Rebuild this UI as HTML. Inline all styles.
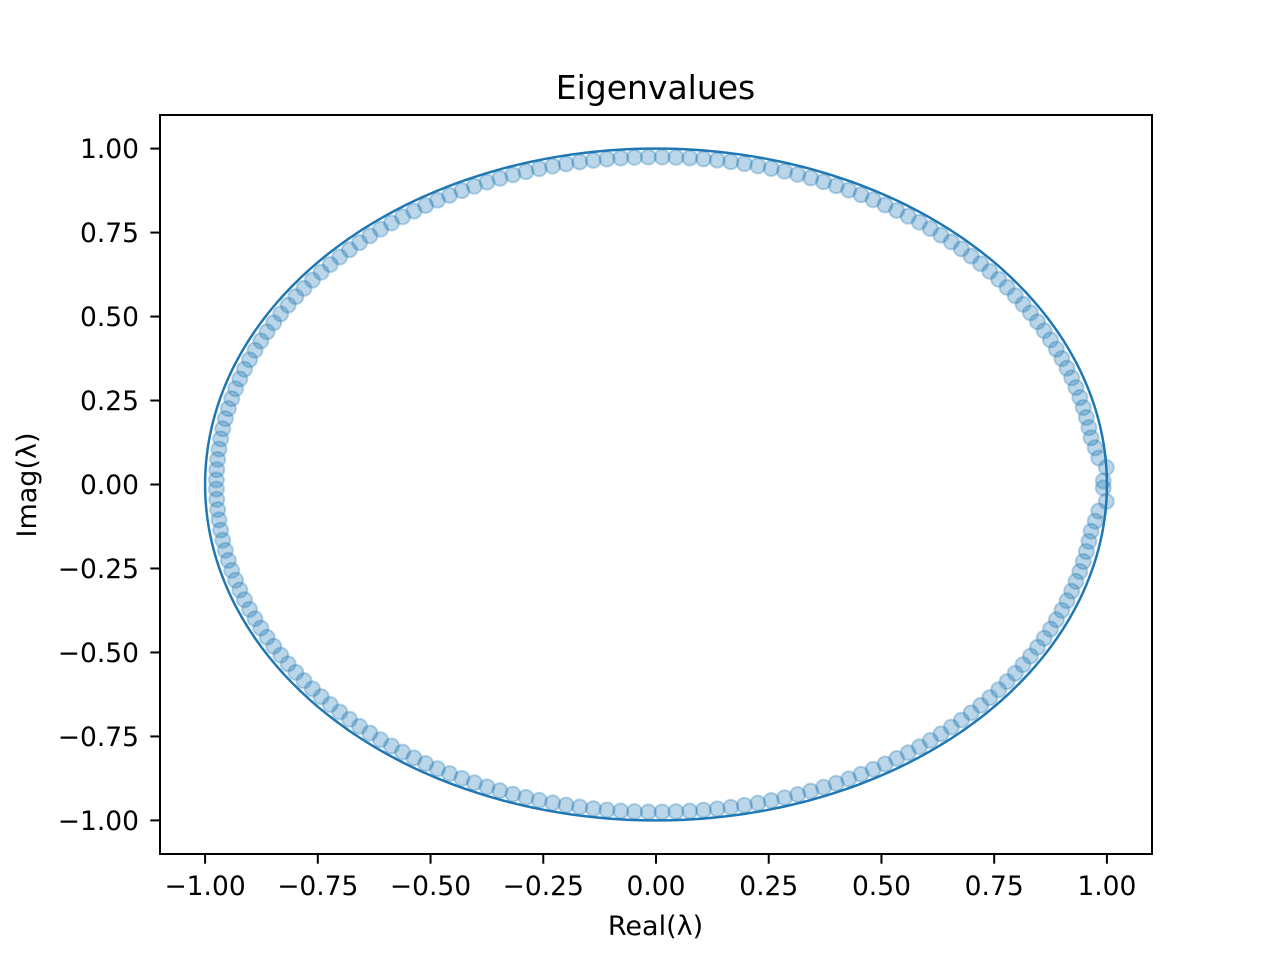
<!DOCTYPE html>
<html><head><meta charset="utf-8"><style>
body{margin:0;background:#fff}
svg text{font-family:"DejaVu Sans","Liberation Sans",sans-serif;fill:#000}
</style></head><body>
<svg id="chart" width="1280" height="960" xmlns="http://www.w3.org/2000/svg">
<rect width="1280" height="960" fill="#fff"/>
<text x="655.5" y="99" font-size="33" text-anchor="middle">Eigenvalues</text>
<g id="plot"></g>
<g id="axes"></g>
<text x="655.5" y="935" font-size="27" text-anchor="middle">Real(λ)</text>
<text transform="translate(36,485) rotate(-90)" font-size="27" text-anchor="middle">Imag(λ)</text>
</svg>
<script>
// eigenvalues in upper half-plane (polar form, degrees); conjugates are plotted too
const eigAngles = [0.6,2.9,4.6,6.4,8.2,10,11.8,13.6,15.4,17.2,19,20.8,22.6,24.4,26.2,28,29.8,31.6,33.4,35.2,37,38.8,40.6,42.4,44.2,46,47.8,49.6,51.4,53.2,55,56.8,58.6,60.4,62.2,64,65.8,67.6,69.4,71.2,73,74.8,76.6,78.4,80.2,82,83.8,85.6,87.4,89.2,91,92.8,94.6,96.4,98.2,100,101.8,103.6,105.4,107.2,109,110.8,112.6,114.4,116.2,118,119.8,121.6,123.4,125.2,127,128.8,130.6,132.4,134.2,136,137.8,139.6,141.4,143.2,145,146.8,148.6,150.4,152.2,154,155.8,157.6,159.4,161.2,163,164.8,166.6,168.4,170.2,172,173.8,175.6,177.4,179.2];
const eigRadiiSpecial = [0.992,1.0,0.985,0.98];
const defaultRadius = 0.975;
const xTicks = [-1,-0.75,-0.5,-0.25,0,0.25,0.5,0.75,1];
const yTicks = [-1,-0.75,-0.5,-0.25,0,0.25,0.5,0.75,1];
const xTickLabels = ["−1.00","−0.75","−0.50","−0.25","0.00","0.25","0.50","0.75","1.00"];
const yTickLabels = ["−1.00","−0.75","−0.50","−0.25","0.00","0.25","0.50","0.75","1.00"];

const L=160,R=1152,T=115,B=854;
const xMin=-1.1,xMax=1.1,yMin=-1.1,yMax=1.1;
const sx=v=>L+(v-xMin)/(xMax-xMin)*(R-L);
const sy=v=>B-(v-yMin)/(yMax-yMin)*(B-T);
const NS="http://www.w3.org/2000/svg";
const plot=document.getElementById('plot'), axes=document.getElementById('axes');
function mk(tag,attrs,parent){const e=document.createElementNS(NS,tag);for(const k in attrs)e.setAttribute(k,attrs[k]);parent.appendChild(e);return e;}

// unit circle
let d='';
for(let i=0;i<=360;i++){const a=i*Math.PI/180;d+=(i?'L':'M')+sx(Math.cos(a)).toFixed(2)+','+sy(Math.sin(a)).toFixed(2);}
const circ=mk('path',{d:d+'Z',fill:'none',stroke:'#1f77b4','stroke-width':2.5},plot);



eigAngles.forEach((ang,i)=>{
  const r=i<eigRadiiSpecial.length?eigRadiiSpecial[i]:defaultRadius;
  const a=ang*Math.PI/180;
  [1,-1].forEach(s=>{
    const c=mk('circle',{cx:sx(r*Math.cos(a)),cy:sy(s*r*Math.sin(a)),r:7.5,fill:'rgba(31,119,180,0.3)',stroke:'rgba(31,119,180,0.3)','stroke-width':2},plot);
    
    
  });
});

const frame=mk('rect',{x:L,y:T,width:R-L,height:B-T,fill:'none',stroke:'#000','stroke-width':2},axes);


xTicks.forEach((v,i)=>{
  const x=sx(v);
  const t=mk('line',{x1:x,x2:x,y1:B,y2:B+9.7,stroke:'#000','stroke-width':2},axes);
  
  
  const tx=mk('text',{x:x,y:B+41,'font-size':26.5,'text-anchor':'middle'},axes);
  tx.textContent=xTickLabels[i];
  
  
});
yTicks.forEach((v,i)=>{
  const y=sy(v);
  const t=mk('line',{x1:L-9.7,x2:L,y1:y,y2:y,stroke:'#000','stroke-width':2},axes);
  
  
  const tx=mk('text',{x:139,y:y+9.5,'font-size':26.5,'text-anchor':'end'},axes);
  tx.textContent=yTickLabels[i];
  
  
});
</script>
</body></html>
